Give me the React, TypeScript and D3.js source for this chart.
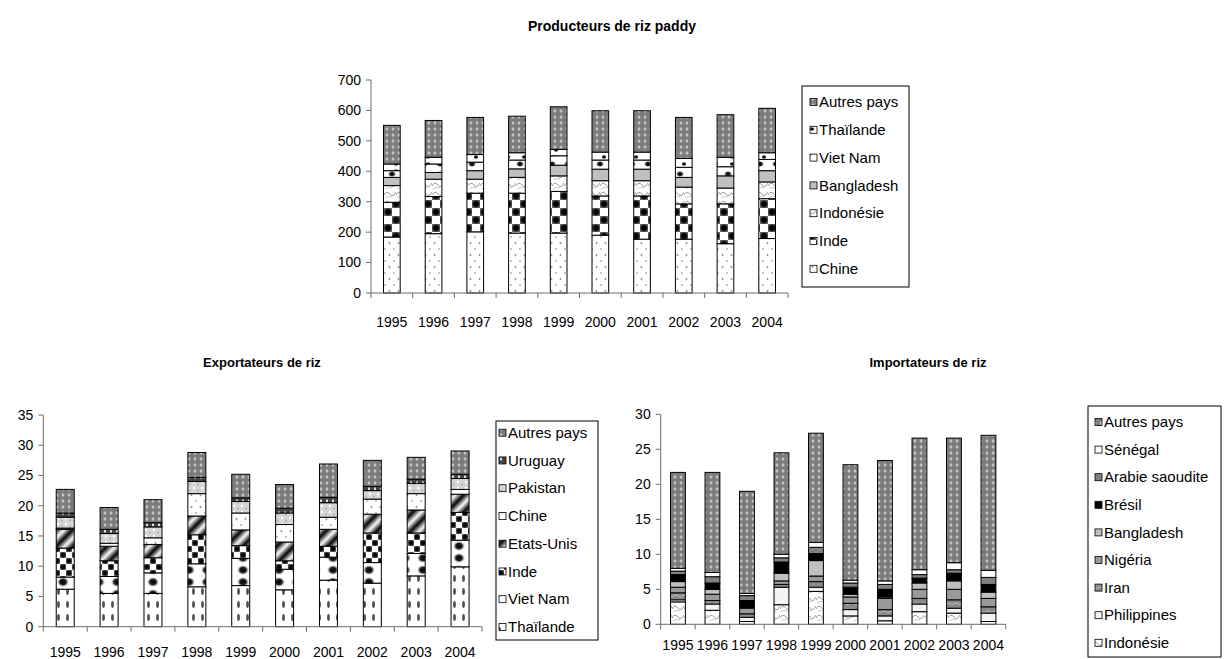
import React from 'react'
import * as d3 from 'd3'

const years = ['1995', '1996', '1997', '1998', '1999', '2000', '2001', '2002', '2003', '2004']

// Producteurs de riz paddy (millions de tonnes)
const prodChine = [184, 195, 201, 197, 197, 190, 177, 177, 162, 179]
const prodInde = [114, 122, 127, 131, 137, 129, 142, 116, 131, 131]
const prodIndonesie = [55, 57, 46, 52, 51, 50, 50, 55, 52, 55]
const prodBangladesh = [27, 22, 28, 28, 35, 38, 38, 32, 40, 37]
const prodVietNam = [22, 28, 28, 29, 31, 30, 30, 33, 30, 37]
const prodThailande = [22, 22, 25, 24, 21, 26, 26, 29, 31, 22]
const prodAutres = [127, 121, 122, 120, 140, 136, 136, 135, 140, 146]

// Exportateurs de riz
const expThailande = [6.2, 5.5, 5.5, 6.6, 6.8, 6.1, 7.7, 7.2, 8.4, 9.9]
const expVietNam = [2.0, 2.8, 3.4, 3.8, 4.5, 3.4, 3.8, 3.4, 3.7, 4.4]
const expInde = [4.8, 2.6, 2.5, 4.8, 2.1, 1.4, 1.8, 4.9, 3.4, 4.6]
const expEtatsUnis = [3.1, 2.4, 2.2, 3.1, 2.6, 3.1, 2.8, 3.1, 3.8, 3.0]
const expChine = [0.2, 0.5, 1.1, 3.7, 2.8, 2.9, 2.0, 2.5, 2.7, 0.8]
const expPakistan = [1.8, 1.6, 1.8, 2.0, 1.9, 1.9, 2.4, 1.4, 1.7, 1.8]
const expUruguay = [0.7, 0.7, 0.7, 0.7, 0.6, 0.8, 0.9, 0.7, 0.7, 0.7]
const expAutres = [3.9, 3.6, 3.8, 4.1, 3.9, 3.9, 5.5, 4.3, 3.6, 3.85]

// Importateurs de riz
const impIndonesie = [3.2, 2.0, 0.4, 2.8, 4.7, 1.2, 0.5, 1.8, 1.6, 0.4]
const impPhilippines = [0.3, 0.9, 0.6, 2.5, 0.6, 0.9, 0.7, 1.1, 0.7, 1.2]
const impIran = [1.0, 0.5, 0.5, 0.4, 0.8, 0.9, 0.9, 0.8, 1.2, 0.9]
const impNigeria = [0.8, 0.9, 0.8, 0.5, 0.8, 0.9, 1.6, 1.3, 1.5, 1.2]
const impBangladesh = [0.8, 0.7, 0.1, 1.1, 2.2, 0.4, 0.2, 0.9, 1.2, 0.9]
const impBresil = [1.0, 0.9, 1.0, 1.6, 1.0, 1.0, 1.1, 0.7, 1.1, 1.1]
const impArabie = [0.5, 0.9, 0.7, 0.6, 0.9, 0.6, 0.7, 0.5, 0.5, 1.0]
const impSenegal = [0.4, 0.6, 0.3, 0.5, 0.7, 0.4, 0.5, 0.7, 1.0, 1.0]
const impAutres = [13.7, 14.3, 14.6, 14.5, 15.6, 16.5, 17.2, 18.8, 17.8, 19.3]

type Serie = { name: string; values: number[]; fill: string }

const FONT = 'Arial, "Liberation Sans", sans-serif'

function Patterns() {
  return (
    <defs>
      <radialGradient id="gBlob">
        <stop offset="0%" stopColor="#000" />
        <stop offset="50%" stopColor="#222" />
        <stop offset="100%" stopColor="#fff" stopOpacity="0" />
      </radialGradient>
      <radialGradient id="gSq">
        <stop offset="0%" stopColor="#000" />
        <stop offset="70%" stopColor="#111" />
        <stop offset="100%" stopColor="#666" />
      </radialGradient>
      <radialGradient id="gOval">
        <stop offset="0%" stopColor="#e6e6e6" />
        <stop offset="100%" stopColor="#e6e6e6" stopOpacity="0" />
      </radialGradient>
      <linearGradient id="gDiag" x1="0" x2="1" y1="0" y2="0">
        <stop offset="0%" stopColor="#fff" />
        <stop offset="50%" stopColor="#000" />
        <stop offset="100%" stopColor="#fff" />
      </linearGradient>
      <pattern id="pAutres" width="6" height="6" patternUnits="userSpaceOnUse">
        <rect width="6" height="6" fill="#7c7c7c" />
        <ellipse cx="3" cy="3" rx="2" ry="2.4" fill="url(#gOval)" />
      </pattern>
      <pattern id="pDots" width="9" height="12" patternUnits="userSpaceOnUse">
        <rect width="9" height="12" fill="#fff" />
        <ellipse cx="2.5" cy="3" rx="0.9" ry="1.3" fill="#999" />
        <circle cx="7" cy="9" r="0.9" fill="#aaa" />
      </pattern>
      <pattern id="pChecker" width="16" height="16" patternUnits="userSpaceOnUse">
        <rect width="16" height="16" fill="#fff" />
        <rect width="8" height="8" fill="url(#gSq)" />
        <rect x="8" y="8" width="8" height="8" fill="url(#gSq)" />
      </pattern>
      <pattern id="pCheckerSm" width="12" height="12" patternUnits="userSpaceOnUse">
        <rect width="12" height="12" fill="#fff" />
        <rect width="6" height="6" fill="url(#gSq)" />
        <rect x="6" y="6" width="6" height="6" fill="url(#gSq)" />
      </pattern>
      <pattern id="pMarble" width="12" height="9" patternUnits="userSpaceOnUse">
        <rect width="12" height="9" fill="#fff" />
        <path d="M0 6 Q3 1 6 5 T12 3" fill="none" stroke="#999" strokeWidth="1" />
        <path d="M1 9 Q5 6 8 8" fill="none" stroke="#bbb" strokeWidth="0.8" />
      </pattern>
      <pattern id="pBlobTop" width="16" height="10" patternUnits="userSpaceOnUse">
        <rect width="16" height="10" fill="#fff" />
        <ellipse cx="8" cy="4" rx="4.5" ry="3.5" fill="url(#gBlob)" />
      </pattern>
      <pattern id="pThaiTop" width="16" height="7" patternUnits="userSpaceOnUse">
        <rect width="16" height="7" fill="#fff" />
        <ellipse cx="12" cy="3" rx="3" ry="2.5" fill="url(#gBlob)" />
      </pattern>
      <pattern id="pBlob" width="18" height="12" patternUnits="userSpaceOnUse">
        <rect width="18" height="12" fill="#fff" />
        <ellipse cx="9" cy="6" rx="6.5" ry="5.5" fill="url(#gBlob)" />
      </pattern>
      <pattern id="pVdash" width="9" height="13" patternUnits="userSpaceOnUse">
        <rect width="9" height="13" fill="#fff" />
        <ellipse cx="4.5" cy="6.5" rx="1.4" ry="3.4" fill="#333" opacity="0.85" />
      </pattern>
      <pattern id="pDiag" width="12" height="12" patternUnits="userSpaceOnUse" patternTransform="rotate(45)">
        <rect width="12" height="12" fill="url(#gDiag)" />
      </pattern>
      <pattern id="pPakistan" width="8" height="6" patternUnits="userSpaceOnUse">
        <rect width="8" height="6" fill="#d6d6d6" />
        <circle cx="2" cy="2" r="1.2" fill="#fff" />
        <circle cx="6" cy="4.5" r="1" fill="#aaa" />
      </pattern>
      <pattern id="pUruguay" width="6" height="6" patternUnits="userSpaceOnUse">
        <rect width="6" height="6" fill="#444" />
        <rect x="2" y="1.5" width="2" height="3" fill="#ddd" />
      </pattern>
      <pattern id="pIran" width="8" height="8" patternUnits="userSpaceOnUse">
        <rect width="8" height="8" fill="#8a8a8a" />
        <path d="M0 5 Q4 1 8 5" fill="none" stroke="#bbb" strokeWidth="1" />
      </pattern>
    </defs>
  )
}

type ChartProps = {
  title: string
  titleSize: number
  titleX: number
  titleY: number
  series: Serie[]
  yMax: number
  yStep: number
  left: number
  right: number
  top: number
  bottom: number
  labelOffset: number
  barFrac: number
  legend: { x: number; y: number; w: number; h: number; first: number; step: number; sw: number; tx: number }
}

function StackedChart(p: ChartProps) {
  const x = d3.scaleBand<string>().domain(years).range([p.left, p.right]).paddingInner(0).paddingOuter(0)
  const y = d3.scaleLinear().domain([0, p.yMax]).range([p.bottom, p.top])
  const keys = p.series.map((s) => s.name)
  const rows = years.map((yr, i) => {
    const r: Record<string, number | string> = { year: yr }
    p.series.forEach((s) => (r[s.name] = s.values[i]))
    return r
  })
  const stacked = d3.stack<Record<string, number | string>>().keys(keys)(rows as any)
  const bw = x.bandwidth() * p.barFrac
  const ticks = d3.range(0, p.yMax + p.yStep / 2, p.yStep)
  const axisColor = '#6e6e6e'
  const legendItems = [...p.series].reverse()

  return (
    <g fontFamily={FONT}>
      <text x={p.titleX} y={p.titleY} textAnchor="middle" fontSize={p.titleSize} fontWeight="bold">
        {p.title}
      </text>
      {stacked.map((layer, li) => (
        <g key={layer.key}>
          {layer.map((d, i) => (
            <rect
              key={i}
              x={(x(years[i]) as number) + (x.bandwidth() - bw) / 2}
              y={y(d[1])}
              width={bw}
              height={Math.max(0, y(d[0]) - y(d[1]))}
              fill={p.series[li].fill}
              stroke="#000"
              strokeWidth={1}
            />
          ))}
        </g>
      ))}
      {/* y axis */}
      <line x1={p.left} x2={p.left} y1={p.top} y2={p.bottom} stroke={axisColor} />
      {ticks.map((t) => (
        <g key={t}>
          <line x1={p.left - 5} x2={p.left} y1={y(t)} y2={y(t)} stroke={axisColor} />
          <text x={p.left - 10} y={y(t)} dy="0.35em" textAnchor="end" fontSize={14}>
            {t}
          </text>
        </g>
      ))}
      {/* x axis */}
      <line x1={p.left} x2={p.right} y1={p.bottom} y2={p.bottom} stroke={axisColor} />
      {years.map((yr) => (
        <g key={yr}>
          <line x1={x(yr) as number} x2={x(yr) as number} y1={p.bottom} y2={p.bottom + 5} stroke={axisColor} />
          <text
            x={(x(yr) as number) + x.bandwidth() / 2}
            y={p.bottom + p.labelOffset}
            dy="0.35em"
            textAnchor="middle"
            fontSize={14}
          >
            {yr}
          </text>
        </g>
      ))}
      <line x1={p.right} x2={p.right} y1={p.bottom} y2={p.bottom + 5} stroke={axisColor} />
      {/* legend */}
      <rect x={p.legend.x} y={p.legend.y} width={p.legend.w} height={p.legend.h} fill="#fff" stroke="#000" />
      {legendItems.map((s, i) => {
        const cy = p.legend.first + i * p.legend.step
        return (
          <g key={s.name}>
            <rect x={p.legend.sw} y={cy - 3.5} width={7} height={7} fill={s.fill} stroke="#000" strokeWidth={0.8} />
            <text x={p.legend.tx} y={cy} dy="0.35em" fontSize={15}>
              {s.name}
            </text>
          </g>
        )
      })}
    </g>
  )
}

export default function App() {
  const prodSeries: Serie[] = [
    { name: 'Chine', values: prodChine, fill: 'url(#pDots)' },
    { name: 'Inde', values: prodInde, fill: 'url(#pChecker)' },
    { name: 'Indonésie', values: prodIndonesie, fill: 'url(#pMarble)' },
    { name: 'Bangladesh', values: prodBangladesh, fill: '#c0c0c0' },
    { name: 'Viet Nam', values: prodVietNam, fill: 'url(#pBlobTop)' },
    { name: 'Thaïlande', values: prodThailande, fill: 'url(#pThaiTop)' },
    { name: 'Autres pays', values: prodAutres, fill: 'url(#pAutres)' },
  ]
  const expSeries: Serie[] = [
    { name: 'Thaïlande', values: expThailande, fill: 'url(#pVdash)' },
    { name: 'Viet Nam', values: expVietNam, fill: 'url(#pBlob)' },
    { name: 'Inde', values: expInde, fill: 'url(#pCheckerSm)' },
    { name: 'Etats-Unis', values: expEtatsUnis, fill: 'url(#pDiag)' },
    { name: 'Chine', values: expChine, fill: 'url(#pDots)' },
    { name: 'Pakistan', values: expPakistan, fill: 'url(#pPakistan)' },
    { name: 'Uruguay', values: expUruguay, fill: 'url(#pUruguay)' },
    { name: 'Autres pays', values: expAutres, fill: 'url(#pAutres)' },
  ]
  const impSeries: Serie[] = [
    { name: 'Indonésie', values: impIndonesie, fill: 'url(#pMarble)' },
    { name: 'Philippines', values: impPhilippines, fill: '#f4f4f4' },
    { name: 'Iran', values: impIran, fill: 'url(#pIran)' },
    { name: 'Nigéria', values: impNigeria, fill: '#9a9a9a' },
    { name: 'Bangladesh', values: impBangladesh, fill: '#c0c0c0' },
    { name: 'Brésil', values: impBresil, fill: '#000' },
    { name: 'Arabie saoudite', values: impArabie, fill: '#808080' },
    { name: 'Sénégal', values: impSenegal, fill: '#fff' },
    { name: 'Autres pays', values: impAutres, fill: 'url(#pAutres)' },
  ]

  return (
    <svg width={1224} height={659} style={{ position: 'absolute', left: 0, top: 0, background: '#fff' }}>
      <Patterns />
      <StackedChart
        title="Producteurs de riz paddy"
        titleSize={14}
        titleX={612}
        titleY={31}
        series={prodSeries}
        yMax={700}
        yStep={100}
        left={371}
        right={788}
        top={80}
        bottom={293}
        labelOffset={29}
        barFrac={0.4}
        legend={{ x: 802, y: 86, w: 107, h: 201, first: 102, step: 27.8, sw: 810, tx: 819 }}
      />
      <StackedChart
        title="Exportateurs de riz"
        titleSize={13}
        titleX={262}
        titleY={367}
        series={expSeries}
        yMax={35}
        yStep={5}
        left={43.3}
        right={482}
        top={415}
        bottom={626.7}
        labelOffset={25}
        barFrac={0.41}
        legend={{ x: 496, y: 421, w: 102, h: 219, first: 432.7, step: 27.75, sw: 499, tx: 508 }}
      />
      <StackedChart
        title="Importateurs de riz"
        titleSize={13}
        titleX={928}
        titleY={367}
        series={impSeries}
        yMax={30}
        yStep={5}
        left={660.7}
        right={1005.7}
        top={414.3}
        bottom={624.3}
        labelOffset={21}
        barFrac={0.43}
        legend={{ x: 1088, y: 406, w: 133, h: 251, first: 422, step: 27.6, sw: 1095, tx: 1104 }}
      />
    </svg>
  )
}
